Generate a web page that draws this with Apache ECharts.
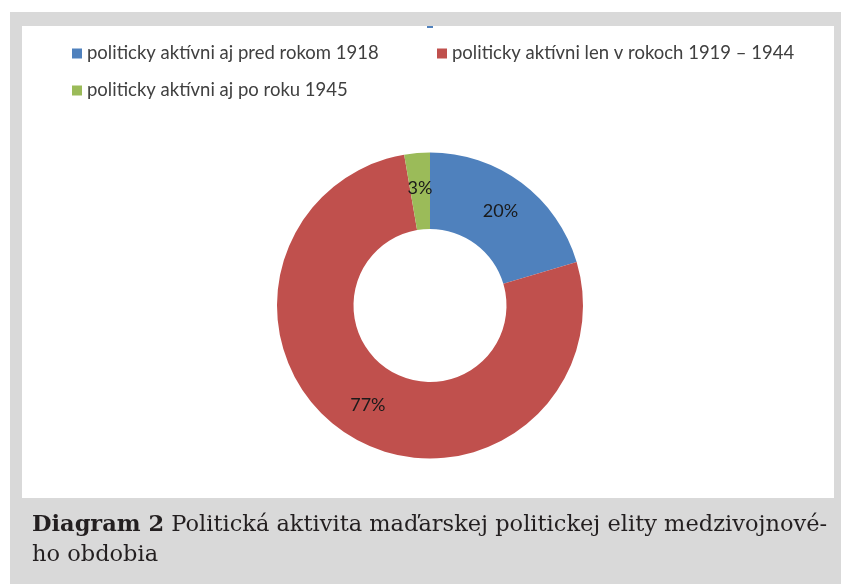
<!DOCTYPE html>
<html>
<head>
<meta charset="utf-8">
<script src="https://cdn.jsdelivr.net/npm/echarts@6/dist/echarts.min.js"></script>
<style>
html, body { margin: 0; padding: 0; background: #fff; }
#chart { width: 841px; height: 586px; }
</style>
</head>
<body>
<div id="chart"></div>
<script>
// data
var categories = [
    'politicky aktívni aj pred rokom 1918',
    'politicky aktívni len v rokoch 1919 – 1944',
    'politicky aktívni aj po roku 1945'
];
var shares = [20.4, 76.9, 2.7];
var colors = ['#4f81bd', '#c0504d', '#9bbb59'];
var captionBold = 'Diagram 2';
var captionLine1 = ' Politická aktivita maďarskej politickej elity medzivojnové-';
var captionLine2 = 'ho obdobia';

var myChart = echarts.init(document.getElementById('chart'));

var legendPos = [
    { left: 72, top: 44 },
    { left: 437, top: 44 },
    { left: 72, top: 81 }
];
var legends = categories.map(function (name, i) {
    return {
        data: [name],
        left: legendPos[i].left,
        top: legendPos[i].top,
        padding: 0,
        icon: 'rect',
        itemWidth: 10,
        itemHeight: 10,
        selectedMode: false,
        textStyle: {
            fontFamily: 'Lato',
            fontSize: 18.5,
            color: '#404040'
        }
    };
});

var option = {
    animation: false,
    color: colors,
    legend: legends,
    graphic: [
        {
            type: 'rect', z: -10,
            shape: { x: 10, y: 12, width: 831, height: 572 },
            style: { fill: '#d9d9d9' }
        },
        {
            type: 'rect', z: -9,
            shape: { x: 22, y: 26, width: 812, height: 472 },
            style: { fill: '#ffffff' }
        },
        {
            type: 'rect', z: -8,
            shape: { x: 427, y: 26, width: 6, height: 2 },
            style: { fill: '#4f81bd' }
        },
        {
            type: 'text',
            x: 32, y: 525,
            style: {
                text: '{b|' + captionBold + '}' + captionLine1,
                fontFamily: 'DejaVu Serif',
                fontSize: 22.5,
                fill: '#231f20',
                verticalAlign: 'middle',
                rich: {
                    b: { fontFamily: 'DejaVu Serif', fontSize: 22.5, fontWeight: 'bold', fill: '#231f20' }
                }
            }
        },
        {
            type: 'text',
            x: 32, y: 555,
            style: {
                text: captionLine2,
                fontFamily: 'DejaVu Serif',
                fontSize: 22.5,
                fill: '#231f20',
                verticalAlign: 'middle'
            }
        }
    ],
    series: [
        {
            type: 'pie',
            center: [430, 305.5],
            radius: [76.5, 153],
            startAngle: 90,
            clockwise: true,
            avoidLabelOverlap: false,
            label: {
                show: true,
                position: 'inside',
                formatter: function (p) { return Math.round(p.percent) + '%'; },
                fontFamily: 'Lato',
                fontSize: 18,
                color: '#1a1a1a'
            },
            labelLine: { show: false },
            emphasis: { disabled: true },
            data: categories.map(function (name, i) {
                return { name: name, value: shares[i] };
            })
        }
    ]
};
myChart.setOption(option);
</script>
</body>
</html>
